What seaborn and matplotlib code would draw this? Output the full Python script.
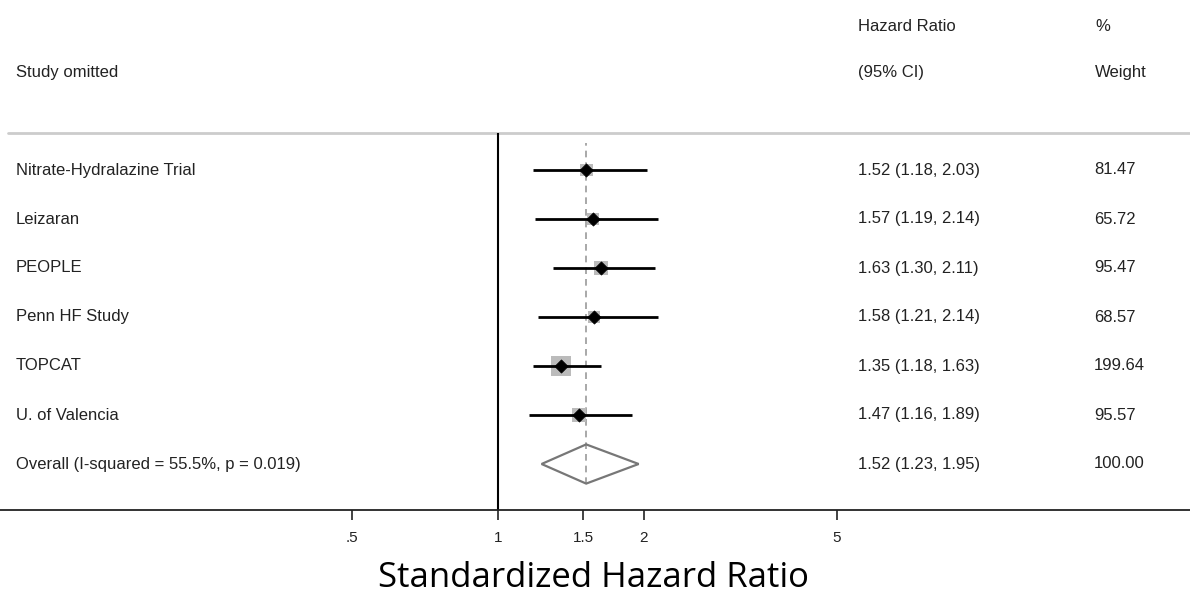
import numpy as np
import pandas as pd
import matplotlib
matplotlib.use("Agg")
import matplotlib.pyplot as plt
import matplotlib.transforms as mtransforms
from matplotlib.patches import Polygon
import seaborn as sns

# Data
studies = ['Nitrate-Hydralazine Trial', 'Leizaran', 'PEOPLE', 'Penn HF Study',
           'TOPCAT', 'U. of Valencia']
hr = [1.52, 1.57, 1.63, 1.58, 1.35, 1.47]
ci_low = [1.18, 1.19, 1.30, 1.21, 1.18, 1.16]
ci_high = [2.03, 2.14, 2.11, 2.14, 1.63, 1.89]
weights = [81.47, 65.72, 95.47, 68.57, 199.64, 95.57]

overall_label = 'Overall (I-squared = 55.5%, p = 0.019)'
overall_hr = 1.52
overall_low = 1.23
overall_high = 1.95
overall_weight = 100.00

tick_values = [0.5, 1, 1.5, 2, 5]
tick_labels = ['.5', '1', '1.5', '2', '5']

df = pd.DataFrame({'study': studies, 'hr': hr, 'lo': ci_low, 'hi': ci_high, 'w': weights})
df['row'] = -np.arange(len(df))

sns.set_theme(style='white')
plt.rcParams['font.family'] = ['Liberation Sans', 'DejaVu Sans']

fig = plt.figure(figsize=(11.9, 5.95), dpi=100)
ax = fig.add_axes([0, 85 / 595, 1, 510 / 595])
ax.set_xscale('log')
ax.set_xlim(0.0941, 26.7)
ax.set_ylim(-(510 - 170) / 49, 170 / 49)

txt_kw = dict(fontsize=12, color='#222222', va='center')
trans = mtransforms.blended_transform_factory(ax.transAxes, ax.transData)

# header
top_line = (170 - 133) / 49
ax.axhline(top_line, xmin=8 / 1190, xmax=1, color='#cccccc', lw=2)
ax.text(16 / 1190, 1.98, 'Study omitted', transform=trans, **txt_kw)
ax.text(858 / 1190, 2.92, 'Hazard Ratio', transform=trans, **txt_kw)
ax.text(858 / 1190, 1.98, '(95% CI)', transform=trans, **txt_kw)
ax.text(1095 / 1190, 2.92, '%', transform=trans, **txt_kw)
ax.text(1095 / 1190, 1.98, 'Weight', transform=trans, **txt_kw)

# reference lines
ax.vlines(1, ax.get_ylim()[0], top_line, color='black', lw=1.5)
ov_row = -len(df)
ax.vlines(overall_hr, ov_row - 0.4, top_line - 0.2, color='#999999', lw=1.2,
          linestyles=(0, (4, 3)))

# weight squares
sq = np.sqrt(df['w'] / df['w'].max()) * 14.6
ax.scatter(df['hr'], df['row'], s=sq ** 2, marker='s', color='#bbbbbb', zorder=2,
           linewidths=0)
# CI lines
ax.hlines(df['row'], df['lo'], df['hi'], color='black', lw=2, zorder=3)
sns.scatterplot(data=df, x='hr', y='row', marker='D', s=45, color='black',
                edgecolor='black', ax=ax, zorder=4, legend=False)

# overall diamond
diamond = Polygon([(overall_low, ov_row), (overall_hr, ov_row + 0.4),
                   (overall_high, ov_row), (overall_hr, ov_row - 0.4)],
                  closed=True, fill=False, edgecolor='#777777', lw=1.6, zorder=3)
ax.add_patch(diamond)

# row labels and values
for _, r in df.iterrows():
    ax.text(16 / 1190, r['row'], r['study'], transform=trans, **txt_kw)
    ax.text(858 / 1190, r['row'], f"{r['hr']:.2f} ({r['lo']:.2f}, {r['hi']:.2f})",
            transform=trans, **txt_kw)
    ax.text(1094 / 1190, r['row'], f"{r['w']:.2f}", transform=trans, **txt_kw)
ax.text(16 / 1190, ov_row, overall_label, transform=trans, **txt_kw)
ax.text(858 / 1190, ov_row, f"{overall_hr:.2f} ({overall_low:.2f}, {overall_high:.2f})",
        transform=trans, **txt_kw)
ax.text(1094 / 1190, ov_row, f"{overall_weight:.2f}", transform=trans, **txt_kw)

# axes styling
for s in ['top', 'left', 'right']:
    ax.spines[s].set_visible(False)
ax.spines['bottom'].set_color('#222222')
ax.spines['bottom'].set_linewidth(1.3)
ax.set_yticks([])
ax.xaxis.set_major_locator(matplotlib.ticker.FixedLocator(tick_values))
ax.xaxis.set_minor_locator(matplotlib.ticker.NullLocator())
ax.set_xticklabels(tick_labels)
ax.tick_params(axis='x', bottom=True, length=7, width=1.2, color='#222222',
               pad=8, labelsize=11, labelcolor='#222222')
ax.set_xlabel('')
ax.set_ylabel('')

fig.text(594 / 1190, 1 - 578 / 595, 'Standardized Hazard Ratio', fontsize=25,
         family='Open Sans', ha='center', va='center', color='black')

fig.savefig('out.png', dpi=100)
